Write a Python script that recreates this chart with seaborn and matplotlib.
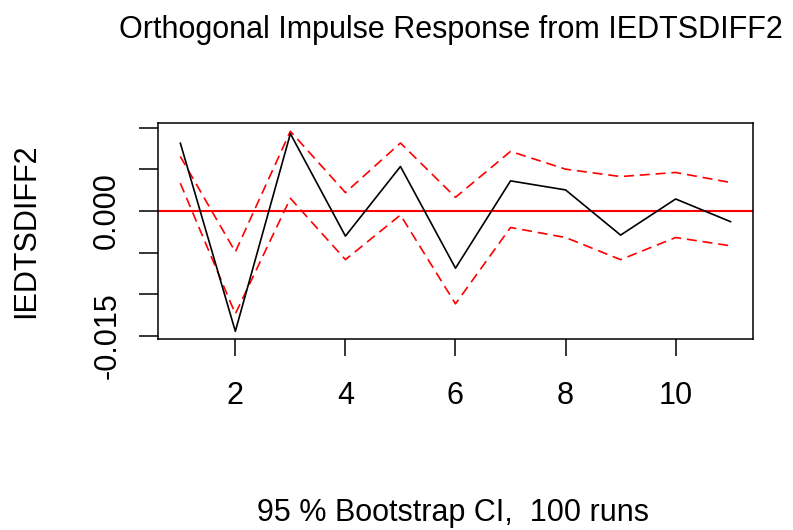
import matplotlib
matplotlib.use("Agg")
import matplotlib.pyplot as plt
import seaborn as sns
import pandas as pd

# impulse response values
steps = [1, 2, 3, 4, 5, 6, 7, 8, 9, 10, 11]
irf = [0.00819, -0.01448, 0.00931, -0.00302, 0.00536, -0.00688,
       0.00363, 0.00254, -0.00290, 0.00145, -0.00129]
upper = [0.00657, -0.00492, 0.00960, 0.00222, 0.00819, 0.00165,
         0.00718, 0.00504, 0.00415, 0.00464, 0.00343]
lower = [0.00335, -0.01238, 0.00153, -0.00585, -0.00048, -0.01117,
         -0.00198, -0.00319, -0.00585, -0.00319, -0.00419]

y_ticks = [-0.015, -0.010, -0.005, 0.000, 0.005, 0.010]
y_labels = ['-0.015', '', '', '0.000', '', '']
x_ticks = [2, 4, 6, 8, 10]

sns.set_theme(style="white")
plt.rcParams['font.family'] = ['Liberation Sans', 'DejaVu Sans']
plt.rcParams['text.color'] = 'black'
plt.rcParams['xtick.color'] = 'black'
plt.rcParams['ytick.color'] = 'black'

df = pd.DataFrame({'step': steps, 'irf': irf, 'upper': upper, 'lower': lower})

fig = plt.figure(figsize=(7.93, 5.3), dpi=100)
ax = fig.add_axes([0.1996, 0.3598, 0.7496, 0.4076])

ax.axhline(0, color='red', lw=1.5, zorder=1)
sns.lineplot(data=df, x='step', y='upper', ax=ax, color='red', lw=1.2,
             dashes=(6, 3.5), zorder=2)
sns.lineplot(data=df, x='step', y='lower', ax=ax, color='red', lw=1.2,
             dashes=(6, 3.5), zorder=2)
sns.lineplot(data=df, x='step', y='irf', ax=ax, color='black', lw=1.2, zorder=3)

# R style 4% axis expansion
lo = min(irf + upper + lower)
hi = max(irf + upper + lower)
pad = (hi - lo) * 0.04
ax.set_ylim(lo - pad, hi + pad)
ax.set_xlim(1 - 0.4, 11 + 0.4)

ax.set_yticks(y_ticks)
ax.set_yticklabels(y_labels, rotation=90, va='center', fontsize=22, color='black')
ax.set_xticks(x_ticks)
ax.set_xticklabels([str(t) for t in x_ticks], fontsize=22, color='black')
ax.tick_params(axis='x', direction='out', length=12, width=1.1,
               color='black', pad=18, bottom=True)
ax.tick_params(axis='y', direction='out', length=14, width=1.1,
               color='black', pad=12, left=True)
ax.set_xlabel('')
ax.set_ylabel('')
for s in ax.spines.values():
    s.set_color('black')
    s.set_linewidth(1.1)

fig.text(0.033, 0.5645, 'IEDTSDIFF2', rotation=90,
         ha='center', va='center', fontsize=22, color='black')
fig.text(0.568, 0.9283, 'Orthogonal Impulse Response from IEDTSDIFF2',
         ha='center', va='baseline', fontsize=22, color='black')
fig.text(0.571, 0.017, '95 % Bootstrap CI,  100 runs',
         ha='center', va='baseline', fontsize=22, color='black')

fig.savefig('out.png', dpi=100)
